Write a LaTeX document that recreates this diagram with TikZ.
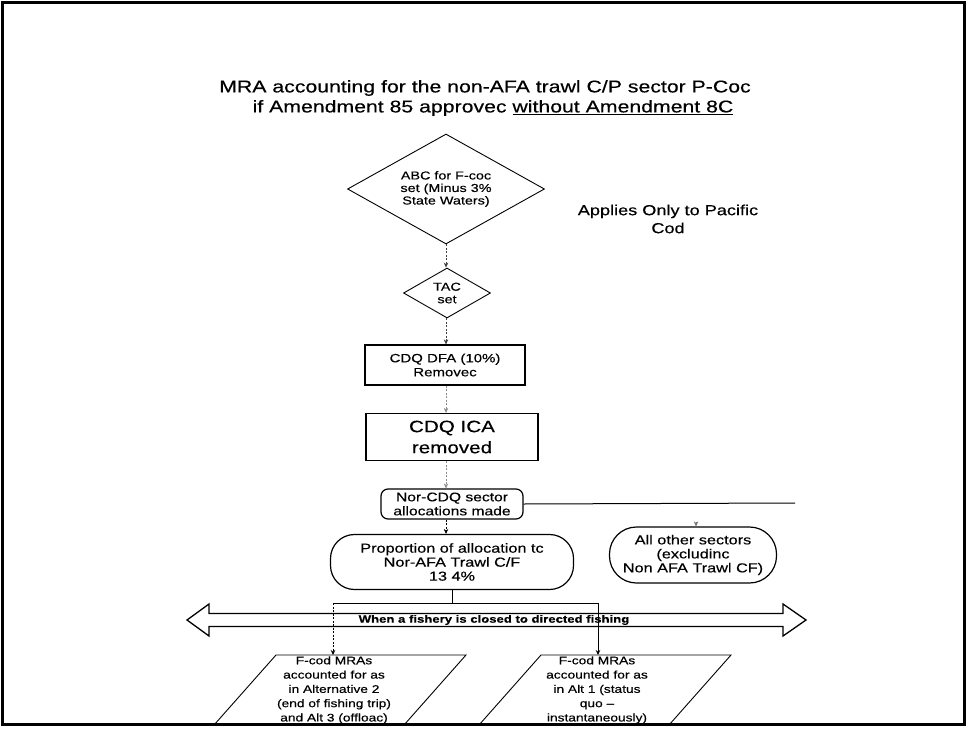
\documentclass[tikz,border=0pt]{standalone}
\usepackage{fontspec}
\setmainfont{Liberation Sans}[FakeStretch=1.25, FakeBold=0.4]
\usetikzlibrary{shapes.geometric,arrows.meta}
\newcommand\fsz[2]{\fontsize{#1}{#2}\selectfont}
\begin{document}
\begin{tikzpicture}[x=1pt,y=-1pt,
  every node/.style={align=center, inner sep=0pt},
  flowline/.style={line width=0.7pt},
  tip/.style={-{Stealth[length=5pt,width=4.5pt]}},
  dottedlink/.style={flowline, tip, dash pattern=on 2pt off 1.5pt},
  decision/.style={diamond, draw, line width=0.9pt, font=\fsz{11.5}{12.5}},
  stepbox/.style={draw, line width=1.2pt, rectangle},
  roundbox/.style={draw, line width=1.2pt, rectangle, rounded corners=#1},
  mrabox/.style={draw, line width=0.9pt}
]
\useasboundingbox (0,0) rectangle (968,730);

% heading
\node[font=\fsz{17}{20}] (title1) at (485,88) {MRA accounting for the non-AFA trawl C/P sector P-Coc};
\node[font=\fsz{17}{20}] (title2) at (493,108) {if Amendment 85 approvec \underline{without Amendment 8C}};

% main column
\node[decision, aspect=1.8, minimum width=197pt, minimum height=110pt] (abc) at (446,189)
  {ABC for F-coc\\set (Minus 3\%\\State Waters)};
\node[font=\fsz{14.5}{18}] (scope) at (668,219) {Applies Only to Pacific\\Cod};
\node[decision, aspect=1.75, minimum width=87pt, minimum height=50pt] (tac) at (447,293) {TAC\\set};
\node[stepbox, minimum width=160pt, minimum height=40pt, font=\fsz{12}{14}] (dfa) at (445,365)
  {CDQ DFA (10\%)\\Removec};
\node[stepbox, minimum width=172pt, minimum height=47pt, font=\fsz{16.5}{21}] (ica) at (452,437)
  {CDQ ICA\\removed};
\node[roundbox=7pt, minimum width=142pt, minimum height=30pt, font=\fsz{12.5}{14}] (noncdq) at (452,504)
  {Nor-CDQ sector\\allocations made};
\node[roundbox=24pt, minimum width=243pt, minimum height=55pt, font=\fsz{13}{14}] (prop) at (452,562)
  {Proportion of allocation tc\\Nor-AFA Trawl C/F\\13 4\%};
\node[roundbox=27pt, minimum width=167pt, minimum height=56pt, font=\fsz{13}{14}] (others) at (693,555)
  {All other sectors\\(excludinc\\Non AFA Trawl CF)};

% links down the column
\draw[dottedlink, black!75] (abc.south) -- (abc.south |- tac.north);
\draw[dottedlink, black!75] (abc.south |- tac.south) -- (abc.south |- dfa.north);
\draw[dottedlink, black!45] (abc.south |- dfa.south) -- (abc.south |- ica.north);
\draw[dottedlink, black!45] (abc.south |- ica.south) -- (abc.south |- noncdq.north);
\draw[dottedlink] (abc.south |- noncdq.south) -- (abc.south |- prop.north);

% branch to the other sectors
\coordinate (rightend) at (795,503);
\coordinate (drop) at (696,522);
\draw[line width=1pt] (noncdq.east) -- (rightend);
\draw[flowline, tip, black!55] (drop) -- (drop |- others.north);

% closure banner
\draw[line width=1.3pt, fill=white]
  (187,620) -- (209,604) -- (209,613.5) -- (783,613.5) -- (783,604) -- (806,620)
  -- (783,636) -- (783,626.5) -- (209,626.5) -- (209,636) -- cycle;
\node[font=\bfseries\fsz{10.5}{12}] (closed) at (494,620) {When a fishery is closed to directed fishing};

% split to the two accounting options
\coordinate (bus) at (452,603);
\coordinate (busL) at (333,603);
\coordinate (busR) at (598,603);
\coordinate (inA) at (333,655);
\coordinate (inB) at (598,655);
\draw[flowline] (prop.south) -- (bus);
\draw[flowline] (busL) -- (busR);
\draw[dottedlink] (busL) -- (inA);
\draw[flowline, tip] (busR) -- (inB);

% accounting options
\draw[mrabox] (276,655) -- (466,655) -- (404,725) -- (214,725) -- cycle;
\draw[mrabox] (541,655) -- (731,655) -- (669,725) -- (479,725) -- cycle;
\node[font=\fsz{11}{14.3}] (mraA) at (334,690)
  {F-cod MRAs\\accounted for as\\in Alternative 2\\(end of fishing trip)\\and Alt 3 (offloac)};
\node[font=\fsz{11}{14.3}] (mraB) at (597,690)
  {F-cod MRAs\\accounted for as\\in Alt 1 (status\\quo --\\instantaneously)};

% outer frame
\draw[line width=3pt] (2.5,2.5) rectangle (964,724);
\end{tikzpicture}
\end{document}
